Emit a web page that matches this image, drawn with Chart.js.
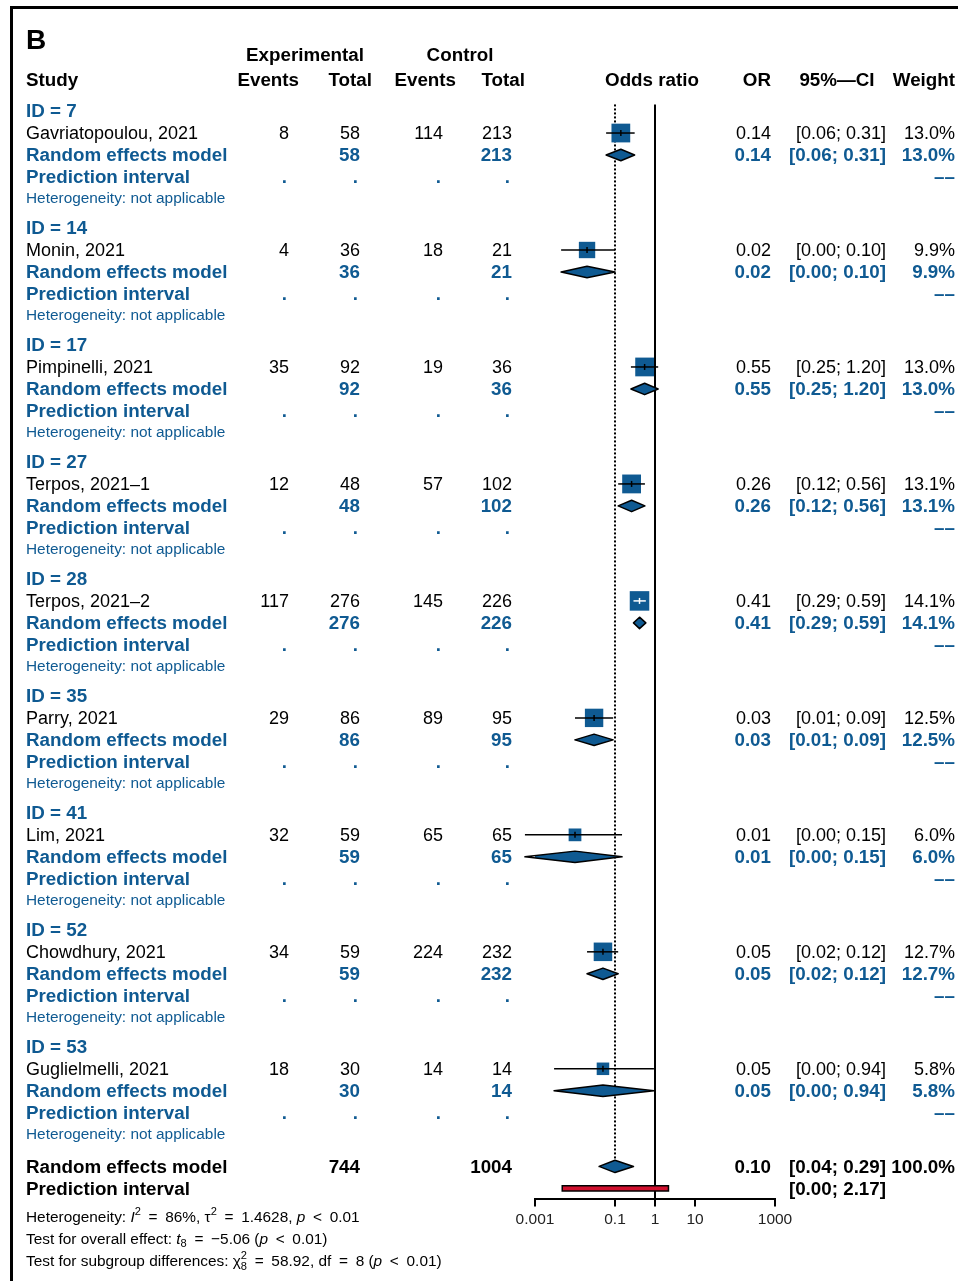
<!DOCTYPE html>
<html>
<head>
<title>Forest plot - Odds ratio by study</title>
<script src="https://cdn.jsdelivr.net/npm/chart.js"></script>
<style>
    body {
        margin: 0;
        background: #fff;
    }
    canvas {
        display: block;
    }
</style>
</head>
<body>
<canvas id="forestChart" width="958" height="1281"></canvas>
<script>
    // study data
    const ids = [7, 14, 17, 27, 28, 35, 41, 52, 53];
    const studies = ['Gavriatopoulou, 2021', 'Monin, 2021', 'Pimpinelli, 2021', 'Terpos, 2021\u20131',
        'Terpos, 2021\u20132', 'Parry, 2021', 'Lim, 2021', 'Chowdhury, 2021', 'Guglielmelli, 2021'];
    const expEvents = [8, 4, 35, 12, 117, 29, 32, 34, 18];
    const expTotal = [58, 36, 92, 48, 276, 86, 59, 59, 30];
    const ctrlEvents = [114, 18, 19, 57, 145, 89, 65, 224, 14];
    const ctrlTotal = [213, 21, 36, 102, 226, 95, 65, 232, 14];
    const oddsRatio = [0.14, 0.02, 0.55, 0.26, 0.41, 0.03, 0.01, 0.05, 0.05];
    const ciLower = [0.06, 0.0045, 0.25, 0.12, 0.29, 0.01, 0.00056, 0.02, 0.003];
    const ciUpper = [0.31, 0.10, 1.20, 0.56, 0.59, 0.09, 0.15, 0.12, 0.94];
    const weights = [13.0, 9.9, 13.0, 13.1, 14.1, 12.5, 6.0, 12.7, 5.8];

    // pooled results
    const pooledOR = 0.10;
    const pooledLower = 0.04;
    const pooledUpper = 0.29;
    const predLower = 0.0048;
    const predUpper = 2.17;
    const expTotalAll = 744;
    const ctrlTotalAll = 1004;

    // x axis ticks
    const xTicks = [0.001, 0.1, 1, 10, 1000];
    const xTickLabels = ['0.001', '0.1', '1', '10', '1000'];

    // layout in row units (1 row = one text line)
    const BLOCK = 5.32;
    const rowOf = (i, line) => i * BLOCK + line;
    const OVERALL_ROW = 48;
    const PRED_ROW = 49;
    const AXIS_ROW = 49.5;

    const BLUE = '#0f5a92';
    const FAM = '"Liberation Sans", Arial, Helvetica, sans-serif';
    const SP = '\u2002';

    const fmt = v => v.toFixed(2);
    const sqSide = w => 5.2 * Math.sqrt(w);

    function diamond(lo, est, hi, row, h) {
        return [
            {x: lo, y: row}, {x: est, y: row - h}, {x: hi, y: row}, {x: est, y: row + h}, {x: lo, y: row}
        ];
    }

    const datasets = [];

    // weighted squares
    datasets.push({
        data: oddsRatio.map((v, i) => ({x: v, y: rowOf(i, 1)})),
        pointStyle: 'rect',
        pointRadius: c => sqSide(weights[c.dataIndex]) / Math.SQRT2,
        backgroundColor: BLUE,
        borderWidth: 0,
        order: 5,
        clip: false
    });

    // confidence interval lines
    studies.forEach((s, i) => {
        datasets.push({
            data: [{x: ciLower[i], y: rowOf(i, 1)}, {x: ciUpper[i], y: rowOf(i, 1)}],
            showLine: true,
            pointRadius: 0,
            borderWidth: 1.5,
            borderColor: c => {
                const xs = c.chart.scales.x;
                const half = sqSide(weights[i]) / 2;
                const mid = xs.getPixelForValue(oddsRatio[i]);
                const inside = xs.getPixelForValue(ciLower[i]) > mid - half && xs.getPixelForValue(ciUpper[i]) < mid + half;
                return inside ? '#ffffff' : '#000000';
            },
            order: 3,
            clip: false
        });
    });

    // small estimate ticks
    datasets.push({
        data: oddsRatio.map((v, i) => ({x: v, y: rowOf(i, 1)})),
        pointStyle: 'line',
        rotation: 90,
        pointRadius: 3,
        borderWidth: 1.5,
        borderColor: c => c.dataIndex === 4 ? '#ffffff' : '#000000',
        order: 2,
        clip: false
    });

    // subgroup diamonds
    studies.forEach((s, i) => {
        datasets.push({
            data: diamond(ciLower[i], oddsRatio[i], ciUpper[i], rowOf(i, 2), 0.26),
            showLine: true,
            fill: 'shape',
            backgroundColor: BLUE,
            borderColor: '#000',
            borderWidth: 1.5,
            borderJoinStyle: 'round',
            borderCapStyle: 'round',
            pointRadius: 0,
            order: 2,
            clip: false
        });
    });

    // overall diamond
    datasets.push({
        data: diamond(pooledLower, pooledOR, pooledUpper, OVERALL_ROW, 0.28),
        showLine: true,
        fill: 'shape',
        backgroundColor: BLUE,
        borderColor: '#000',
        borderWidth: 1.5,
        borderJoinStyle: 'round',
        borderCapStyle: 'round',
        pointRadius: 0,
        order: 2,
        clip: false
    });

    // prediction interval bar
    datasets.push({
        data: [
            {x: predLower, y: PRED_ROW - 0.12}, {x: predUpper, y: PRED_ROW - 0.12},
            {x: predUpper, y: PRED_ROW + 0.12}, {x: predLower, y: PRED_ROW + 0.12},
            {x: predLower, y: PRED_ROW - 0.12}
        ],
        showLine: true,
        fill: 'shape',
        backgroundColor: '#d0102e',
        borderColor: '#000',
        borderWidth: 1.5,
        borderCapStyle: 'square',
        pointRadius: 0,
        order: 1,
        clip: false
    });

    // line of no effect and pooled estimate
    datasets.push({
        data: [{x: 1, y: -0.3}, {x: 1, y: AXIS_ROW}],
        showLine: true,
        borderColor: '#000',
        borderWidth: 2,
        pointRadius: 0,
        order: 6,
        clip: false
    });
    datasets.push({
        data: [{x: pooledOR, y: -0.3}, {x: pooledOR, y: 47.65}],
        showLine: true,
        borderColor: '#000',
        borderWidth: 2,
        borderDash: [2, 2],
        pointRadius: 0,
        order: 6,
        clip: false
    });

    function drawRich(ctx, x, y, parts, size) {
        let cx = x;
        parts.forEach(p => {
            const t = p[0], st = p[1] || '';
            if (st === 'supsub') {
                ctx.font = `${size * 0.72}px ${FAM}`;
                ctx.fillText(t[0], cx, y - size * 0.38);
                ctx.fillText(t[1], cx, y + size * 0.35);
                cx += Math.max(ctx.measureText(t[0]).width, ctx.measureText(t[1]).width);
                return;
            }
            let dy = 0;
            if (st === 'sup') {
                ctx.font = `${size * 0.72}px ${FAM}`;
                dy = -size * 0.38;
            } else if (st === 'sub') {
                ctx.font = `${size * 0.72}px ${FAM}`;
                dy = size * 0.3;
            } else if (st === 'i') {
                ctx.font = `italic ${size}px ${FAM}`;
            } else {
                ctx.font = `${size}px ${FAM}`;
            }
            ctx.fillText(t, cx, y + dy);
            cx += ctx.measureText(t).width;
        });
    }

    const tablePlugin = {
        id: 'forestTable',
        afterDraw(chart) {
            const ctx = chart.ctx;
            const py = r => chart.scales.y.getPixelForValue(r) + 1;
            ctx.save();

            // outer frame
            ctx.strokeStyle = '#000';
            ctx.lineWidth = 3;
            ctx.beginPath();
            ctx.moveTo(11.5, 1300);
            ctx.lineTo(11.5, 7.5);
            ctx.lineTo(1000, 7.5);
            ctx.stroke();

            ctx.textBaseline = 'middle';
            const put = (text, x, row, align, font, color) => {
                ctx.font = font;
                ctx.fillStyle = color;
                ctx.textAlign = align;
                ctx.fillText(text, x, py(row));
            };
            const reg = `18px ${FAM}`;
            const bold = `bold 18.8px ${FAM}`;
            const small = `15.4px ${FAM}`;

            // column headers
            put('B', 26, -3.23, 'left', `bold 28px ${FAM}`, '#000');
            put('Experimental', 305, -2.55, 'center', bold, '#000');
            put('Control', 460, -2.55, 'center', bold, '#000');
            put('Study', 26, -1.41, 'left', bold, '#000');
            put('Events', 299, -1.41, 'right', bold, '#000');
            put('Total', 372, -1.41, 'right', bold, '#000');
            put('Events', 456, -1.41, 'right', bold, '#000');
            put('Total', 525, -1.41, 'right', bold, '#000');
            put('Odds ratio', 652, -1.41, 'center', bold, '#000');
            put('OR', 771, -1.41, 'right', bold, '#000');
            put('95%\u2014CI', 837, -1.41, 'center', bold, '#000');
            put('Weight', 955, -1.41, 'right', bold, '#000');

            // subgroup blocks
            studies.forEach((s, i) => {
                const ci = `[${fmt(ciLower[i])}; ${fmt(ciUpper[i])}]`;
                const w = weights[i].toFixed(1) + '%';
                put(`ID = ${ids[i]}`, 26, rowOf(i, 0), 'left', bold, BLUE);

                put(s, 26, rowOf(i, 1), 'left', reg, '#000');
                put(String(expEvents[i]), 289, rowOf(i, 1), 'right', reg, '#000');
                put(String(expTotal[i]), 360, rowOf(i, 1), 'right', reg, '#000');
                put(String(ctrlEvents[i]), 443, rowOf(i, 1), 'right', reg, '#000');
                put(String(ctrlTotal[i]), 512, rowOf(i, 1), 'right', reg, '#000');
                put(fmt(oddsRatio[i]), 771, rowOf(i, 1), 'right', reg, '#000');
                put(ci, 886, rowOf(i, 1), 'right', reg, '#000');
                put(w, 955, rowOf(i, 1), 'right', reg, '#000');

                put('Random effects model', 26, rowOf(i, 2), 'left', bold, BLUE);
                put(String(expTotal[i]), 360, rowOf(i, 2), 'right', bold, BLUE);
                put(String(ctrlTotal[i]), 512, rowOf(i, 2), 'right', bold, BLUE);
                put(fmt(oddsRatio[i]), 771, rowOf(i, 2), 'right', bold, BLUE);
                put(ci, 886, rowOf(i, 2), 'right', bold, BLUE);
                put(w, 955, rowOf(i, 2), 'right', bold, BLUE);

                put('Prediction interval', 26, rowOf(i, 3), 'left', bold, BLUE);
                [289, 360, 443, 512].forEach(x => put('.', x - 2, rowOf(i, 3), 'right', bold, BLUE));
                put('\u2013\u2013', 955, rowOf(i, 3), 'right', bold, BLUE);

                put('Heterogeneity: not applicable', 26, rowOf(i, 3.95), 'left', small, BLUE);
            });

            // overall
            put('Random effects model', 26, OVERALL_ROW, 'left', bold, '#000');
            put(String(expTotalAll), 360, OVERALL_ROW, 'right', bold, '#000');
            put(String(ctrlTotalAll), 512, OVERALL_ROW, 'right', bold, '#000');
            put(fmt(pooledOR), 771, OVERALL_ROW, 'right', bold, '#000');
            put(`[${fmt(pooledLower)}; ${fmt(pooledUpper)}]`, 886, OVERALL_ROW, 'right', bold, '#000');
            put('100.0%', 955, OVERALL_ROW, 'right', bold, '#000');
            put('Prediction interval', 26, PRED_ROW, 'left', bold, '#000');
            put(`[${fmt(predLower)}; ${fmt(predUpper)}]`, 886, PRED_ROW, 'right', bold, '#000');

            // test statistics
            ctx.fillStyle = '#000';
            ctx.textAlign = 'left';
            drawRich(ctx, 26, py(50.27), [
                ['Heterogeneity: '], ['I', 'i'], ['2', 'sup'], [`${SP}=${SP}86%, \u03c4`], ['2', 'sup'],
                [`${SP}=${SP}1.4628, `], ['p', 'i'], [`${SP}<${SP}0.01`]
            ], 15.4);
            drawRich(ctx, 26, py(51.27), [
                ['Test for overall effect: '], ['t', 'i'], ['8', 'sub'], [`${SP}=${SP}\u22125.06 (`], ['p', 'i'],
                [`${SP}<${SP}0.01)`]
            ], 15.4);
            drawRich(ctx, 26, py(52.3), [
                ['Test for subgroup differences: \u03c7'], [['2', '8'], 'supsub'], [`${SP}=${SP}58.92, df${SP}=${SP}8 (`],
                ['p', 'i'], [`${SP}<${SP}0.01)`]
            ], 15.4);

            ctx.restore();
        }
    };

    const ctx = document.getElementById('forestChart').getContext('2d');
    const forestChart = new Chart(ctx, {
        type: 'scatter',
        data: {datasets: datasets},
        options: {
            responsive: false,
            animation: false,
            events: [],
            layout: {
                autoPadding: false,
                padding: {left: 535, right: 183, top: 0, bottom: 48}
            },
            plugins: {
                legend: {display: false},
                tooltip: {enabled: false}
            },
            scales: {
                x: {
                    type: 'logarithmic',
                    min: 0.001,
                    max: 1000,
                    afterBuildTicks: axis => {
                        axis.ticks = xTicks.map(v => ({value: v}));
                    },
                    ticks: {
                        autoSkip: false,
                        maxRotation: 0,
                        color: '#222',
                        font: {family: FAM, size: 15.5},
                        padding: 4,
                        callback: v => xTickLabels[xTicks.indexOf(v)]
                    },
                    grid: {
                        drawOnChartArea: false,
                        drawTicks: true,
                        tickLength: 7,
                        color: '#000',
                        lineWidth: 2
                    },
                    border: {color: '#000', width: 2}
                },
                y: {
                    display: false,
                    reverse: true,
                    min: -5.05,
                    max: AXIS_ROW
                }
            }
        },
        plugins: [tablePlugin]
    });
</script>
</body>
</html>
